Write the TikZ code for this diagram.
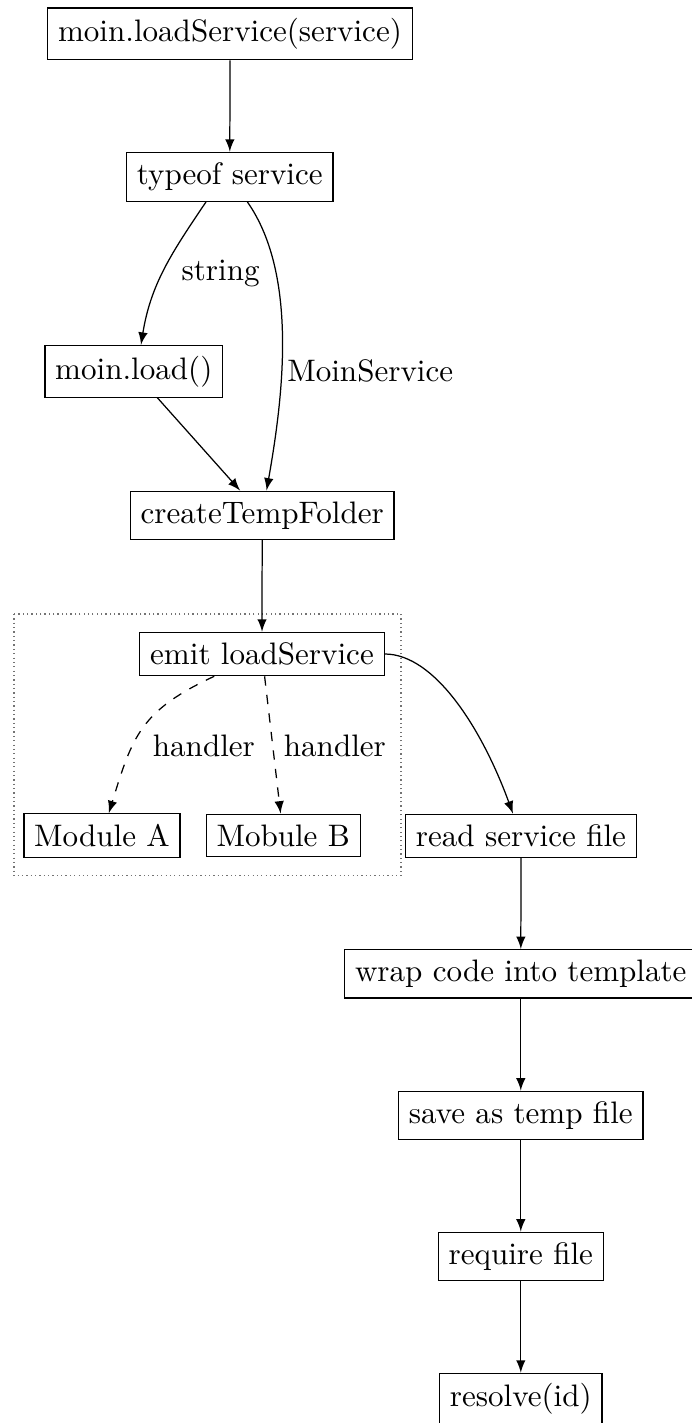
\documentclass[tikz,border=0pt]{standalone}
\usetikzlibrary{calc}
\begin{document}
\begin{tikzpicture}[x=0.32185pt, y=0.32185pt,
  box/.style={draw},
  lbl/.style={inner sep=0pt, anchor=base west},
  arr/.style={-latex},
  hdl/.style={-latex, dashed},
  group/.style={densely dotted, draw=black!55}]
\useasboundingbox (0,0) rectangle (692,-1423);

% main flow
\node[box] (svc)  at (230,-33.8)    {moin.loadService(service)};
\node[box] (type) at (229.8,-176.8) {typeof service};
\node[box] (load) at (133.8,-371.3) {moin.load()};
\node[box] (tmp)  at (262.2,-515.3) {createTempFolder};
\node[box] (emit) at (262,-654)     {emit loadService};
\node[box] (modA) at (102,-835.5)   {Module A};
\node[box] (modB) at (283.2,-835.5) {Mobule B};
\node[box] (read) at (521,-835.7)   {read service file};
\node[box] (wrap) at (520.8,-973.8) {wrap code into template};
\node[box] (save) at (520.8,-1115.5) {save as temp file};
\node[box] (req)  at (520.8,-1256.5) {require file};
\node[box] (res)  at (520.8,-1399.2) {resolve(id)};

% event handlers group
\draw[group] (14,-614) rectangle (401,-875.7);

% edge labels
\node[lbl] (lstr)  at (181,-280)     {string};
\node[lbl] (lmoin) at (286.7,-381.7) {MoinService};
\node[lbl] (lh1)   at (152.3,-756.7) {handler};
\node[lbl] (lh2)   at (283.3,-756.7) {handler};

% connectors
\draw[arr] (svc) -- (type);
\draw[arr] ($(type.south)+(-23.8,0)$) to[out=236, in=81] ($(load.north)+(7.2,0)$);
\draw[arr] (type) to[out=-55, in=80, looseness=0.8] (tmp);
\draw[arr] (load) -- (tmp);
\draw[arr] (tmp) -- (emit);
\draw[hdl] (emit) to[out=205, in=73, looseness=1.2] (modA);
\draw[hdl] (emit) -- (modB);
\draw[arr] (emit.east) .. controls +(50,0) and +(-30.8,84.6) .. (read.110);
\draw[arr] (read) -- (wrap);
\draw[arr] (wrap) -- (save);
\draw[arr] (save) -- (req);
\draw[arr] (req) -- (res);
\end{tikzpicture}
\end{document}
